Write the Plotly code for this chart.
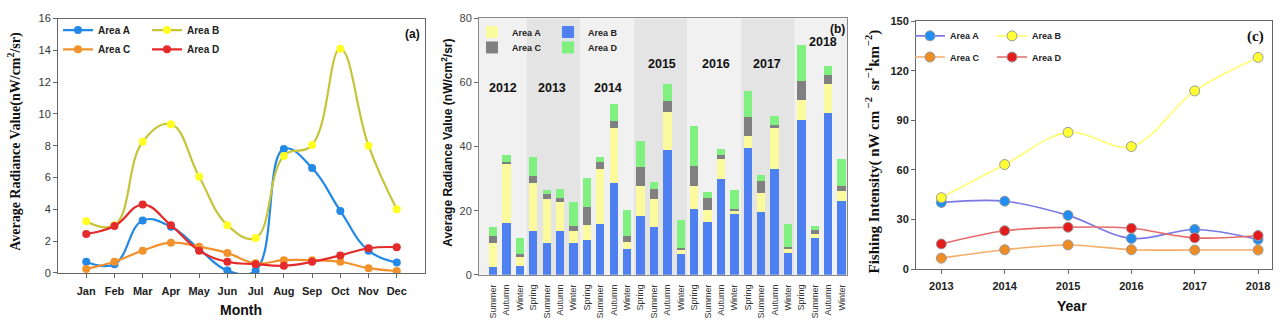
import plotly.graph_objects as go

# ---------------- Panel (a) data ----------------
months = ["Jan", "Feb", "Mar", "Apr", "May", "Jun", "Jul", "Aug", "Sep", "Oct", "Nov", "Dec"]
a_area_a = [0.7, 0.55, 3.3, 2.9, 1.5, 0.15, 0.15, 7.8, 6.6, 3.9, 1.4, 0.65]
a_area_b = [3.25, 3.0, 8.25, 9.35, 6.05, 3.0, 2.2, 7.35, 8.05, 14.1, 8.0, 4.0]
a_area_c = [0.25, 0.7, 1.4, 1.9, 1.65, 1.25, 0.6, 0.8, 0.8, 0.7, 0.3, 0.12]
a_area_d = [2.45, 2.95, 4.3, 3.0, 1.4, 0.7, 0.55, 0.45, 0.7, 1.1, 1.55, 1.62]

# ---------------- Panel (b) data ----------------
seasons = ["Summer", "Autumn", "Winter",
           "Spring", "Summer", "Autumn", "Winter",
           "Spring", "Summer", "Autumn", "Winter",
           "Spring", "Summer", "Autumn", "Winter",
           "Spring", "Summer", "Autumn", "Winter",
           "Spring", "Summer", "Autumn", "Winter",
           "Spring", "Summer", "Autumn", "Winter"]
b_area_b = [2.3, 16.2, 2.8, 13.6, 9.9, 13.6, 9.9, 10.9, 16.0, 28.7, 8.2, 18.4, 14.9, 39.0,
            6.6, 20.4, 16.5, 30.0, 18.9, 39.4, 19.7, 33.0, 6.7, 48.3, 11.6, 50.3, 23.1]
b_area_a = [7.7, 18.2, 2.7, 15.0, 13.7, 9.0, 3.9, 4.6, 17.0, 17.1, 2.1, 9.4, 8.7, 11.8,
            1.2, 7.3, 3.8, 6.2, 1.1, 4.0, 5.8, 12.8, 1.2, 6.1, 1.0, 9.1, 3.1]
b_area_c = [2.2, 0.7, 1.0, 2.2, 1.7, 1.2, 1.5, 5.5, 2.1, 2.2, 1.9, 5.7, 3.3, 3.5,
            0.6, 6.3, 3.5, 1.2, 0.6, 5.7, 3.7, 1.0, 0.7, 6.1, 1.5, 2.8, 1.4]
b_area_d = [2.8, 2.4, 5.1, 5.9, 1.1, 3.0, 7.3, 9.2, 1.6, 5.4, 8.0, 8.1, 2.0, 5.3,
            8.6, 12.3, 2.0, 1.9, 5.9, 8.1, 2.0, 2.7, 7.1, 11.3, 1.1, 3.0, 8.4]
b_years = ["2012", "2013", "2014", "2015", "2016", "2017", "2018"]
b_year_first_idx = [0, 3, 7, 11, 15, 19, 23]
b_year_last_idx = [2, 6, 10, 14, 18, 22, 26]
b_year_label_x = [0.77, 4.4, 8.56, 12.6, 16.6, 20.4, 24.6]
b_year_label_y = [58.2, 58.2, 58.2, 65.8, 65.8, 65.8, 72.5]

# ---------------- Panel (c) data ----------------
years_c = [2013, 2014, 2015, 2016, 2017, 2018]
c_area_a = [40.3, 41.1, 32.5, 18.5, 24.0, 17.9]
c_area_b = [43.2, 63.3, 82.8, 74.2, 107.9, 128.2]
c_area_c = [6.6, 11.7, 14.6, 11.7, 11.5, 11.5]
c_area_d = [15.2, 23.2, 25.3, 24.7, 18.9, 20.3]

SANS = "Liberation Sans, Arial, sans-serif"
SERIF = "Liberation Serif, Times New Roman, serif"

fig = go.Figure()

# ---- (a) traces ----
a_specs = [("Area A", a_area_a, "#2389e6", "#2389e6", "legend", 1),
           ("Area B", a_area_b, "#c6c43a", "#ffff22", "legend", 2),
           ("Area C", a_area_c, "#f2922c", "#f2922c", "legend2", 1),
           ("Area D", a_area_d, "#e42a2a", "#e42a2a", "legend2", 2)]
for name, vals, lc, mc, lg, rk in a_specs:
    fig.add_trace(go.Scatter(
        x=list(range(len(months))), y=vals, name=name, mode="lines+markers",
        line=dict(color=lc, width=2.2, shape="spline", smoothing=1.2),
        marker=dict(color=mc, size=8), legend=lg, legendrank=rk,
        xaxis="x", yaxis="y"))

# ---- (b) traces (stack: B bottom, then A, C, D) ----
bx = list(range(len(seasons)))
b_specs = [("Area B", b_area_b, "#4f80f2", "legend3", 2),
           ("Area A", b_area_a, "#fbfb9e", "legend3", 1),
           ("Area C", b_area_c, "#808080", "legend4", 1),
           ("Area D", b_area_d, "#80f080", "legend4", 2)]
for name, vals, col, lg, rk in b_specs:
    fig.add_trace(go.Bar(
        x=bx, y=vals, name=name, marker=dict(color=col, line=dict(width=0)),
        width=0.62, legend=lg, legendrank=rk, xaxis="x2", yaxis="y2"))

# ---- (c) traces ----
c_specs = [("Area A", c_area_a, "#7a78e6", "#1f8ef0", "legend5", 1),
           ("Area B", c_area_b, "#ffff70", "#ffff33", "legend5", 2),
           ("Area C", c_area_c, "#f5ad6a", "#f08c24", "legend6", 1),
           ("Area D", c_area_d, "#e66a6a", "#e21c1c", "legend6", 2)]
for name, vals, lc, mc, lg, rk in c_specs:
    fig.add_trace(go.Scatter(
        x=years_c, y=vals, name=name, mode="lines+markers",
        line=dict(color=lc, width=1.6, shape="spline", smoothing=1.0),
        marker=dict(color=mc, size=10, line=dict(color="#9a9a9a", width=1)),
        legend=lg, legendrank=rk, xaxis="x3", yaxis="y3"))

# background bands for (b)
shapes = []
for i, (f, l) in enumerate(zip(b_year_first_idx, b_year_last_idx)):
    x0 = -1.05 if i == 0 else f - 0.5
    x1 = 26.5 if i == len(b_years) - 1 else l + 0.5
    shapes.append(dict(type="rect", xref="x2", yref="y2 domain", x0=x0, x1=x1, y0=0, y1=1,
                       fillcolor="#e4e4e4" if i % 2 == 1 else "#f1f1f1",
                       line=dict(width=0), layer="below"))

annotations = []
for t, x, y in zip(b_years, b_year_label_x, b_year_label_y):
    annotations.append(dict(text=t, x=x, y=y, xref="x2", yref="y2", showarrow=False,
                            xanchor="center", yanchor="middle",
                            font=dict(family=SANS, size=12.5, color="#111", weight="bold")))
# panel labels
paper_ann = [
    dict(text="(a)", x=412, y=29, textangle=0,
         font=dict(family=SANS, size=12, color="#111", weight="bold")),
    dict(text="(b)", x=837, y=24, textangle=0,
         font=dict(family=SANS, size=12, color="#111", weight="bold")),
    dict(text="(c)", x=1255, y=32, textangle=0,
         font=dict(family=SERIF, size=15, color="#111", weight="bold")),
    # axis titles
    dict(text="Average Radiance Value(nW/cm<sup>2</sup>/sr)", x=15, y=141, textangle=-90,
         font=dict(family=SERIF, size=14, color="#111", weight="bold")),
    dict(text="Month", x=241, y=315, textangle=0,
         font=dict(family=SANS, size=14, color="#111", weight="bold")),
    dict(text="Average Radiance Value (nW/cm<sup>2</sup>/sr)", x=447, y=142, textangle=-90,
         font=dict(family=SANS, size=12, color="#111", weight="bold")),
    dict(text="Fishing Intensity( nW cm<sup> −2 </sup> sr<sup>−1</sup>km<sup>−2</sup>)",
         x=873, y=151, textangle=-90,
         font=dict(family=SERIF, size=15, color="#111", weight="bold")),
    dict(text="Year", x=1072, y=311, textangle=0,
         font=dict(family=SANS, size=14, color="#111", weight="bold")),
]
W, H = 1280, 329
for an in paper_ann:
    an.update(x=an["x"] / W, y=1 - an["y"] / H, xref="paper", yref="paper",
              showarrow=False, xanchor="center", yanchor="middle")
    annotations.append(an)

axis_common = dict(showgrid=False, zeroline=False, showline=True, mirror=True,
                   linecolor="#666", linewidth=1, ticks="outside", ticklen=4,
                   tickcolor="#666")

leg_font_ac = dict(family=SANS, size=10, color="#222", weight="bold")
leg_font_b = dict(family=SANS, size=9, color="#222", weight="bold")


def leg(x, y, ew, font):
    return dict(orientation="h", x=x / W, y=1 - y / H, xanchor="left", yanchor="middle",
                entrywidth=ew, entrywidthmode="pixels", bgcolor="rgba(0,0,0,0)",
                font=font, traceorder="normal", itemwidth=30, tracegroupgap=0)


fig.update_layout(
    width=W, height=H, margin=dict(l=0, r=0, t=0, b=0),
    paper_bgcolor="white", plot_bgcolor="white",
    barmode="stack", bargap=0.38, showlegend=True,
    xaxis=dict(axis_common, domain=[58 / W, 425 / W], range=[-1, 12],
               tickvals=list(range(12)), ticktext=months, anchor="y", ticklabelstandoff=4,
               tickfont=dict(family=SANS, size=11, color="#222", weight="bold")),
    yaxis=dict(axis_common, domain=[1 - 277 / H, 1 - 13 / H], range=[0, 16], dtick=2,
               anchor="x", tickfont=dict(family=SANS, size=11, color="#333")),
    xaxis2=dict(axis_common, domain=[479 / W, 847 / W], range=[-1.05, 26.4],
                tickvals=bx, ticktext=seasons, tickangle=-90, anchor="y2", linecolor="#888",
                ticks="", ticklabelstandoff=5,
                tickfont=dict(family=SANS, size=9, color="#333")),
    yaxis2=dict(axis_common, domain=[1 - 279 / H, 1 - 12.7 / H], range=[0, 80], dtick=20,
                anchor="x2", linecolor="#888",
                tickfont=dict(family=SANS, size=11, color="#444")),
    xaxis3=dict(axis_common, domain=[916 / W, 1272 / W], range=[2012.6, 2018.22],
                tickvals=years_c, anchor="y3", ticklabelstandoff=3,
                tickfont=dict(family=SANS, size=11, color="#222", weight="bold")),
    yaxis3=dict(axis_common, domain=[1 - 273 / H, 1 - 16 / H], range=[0, 150], dtick=30,
                anchor="x3", tickfont=dict(family=SANS, size=11, color="#222", weight="bold")),
    legend=leg(58, 25, 44, leg_font_ac),
    legend2=leg(58, 45, 44, leg_font_ac),
    legend3=leg(472, 27, 31, leg_font_b),
    legend4=leg(472, 43, 31, leg_font_b),
    legend5=leg(910, 31, 37, leg_font_b),
    legend6=leg(910, 53, 37, leg_font_b),
    shapes=shapes, annotations=annotations,
)

fig.write_html("out.html", config={"displayModeBar": False},
               post_script="document.body.style.margin='0px';document.body.style.overflow='hidden';")
